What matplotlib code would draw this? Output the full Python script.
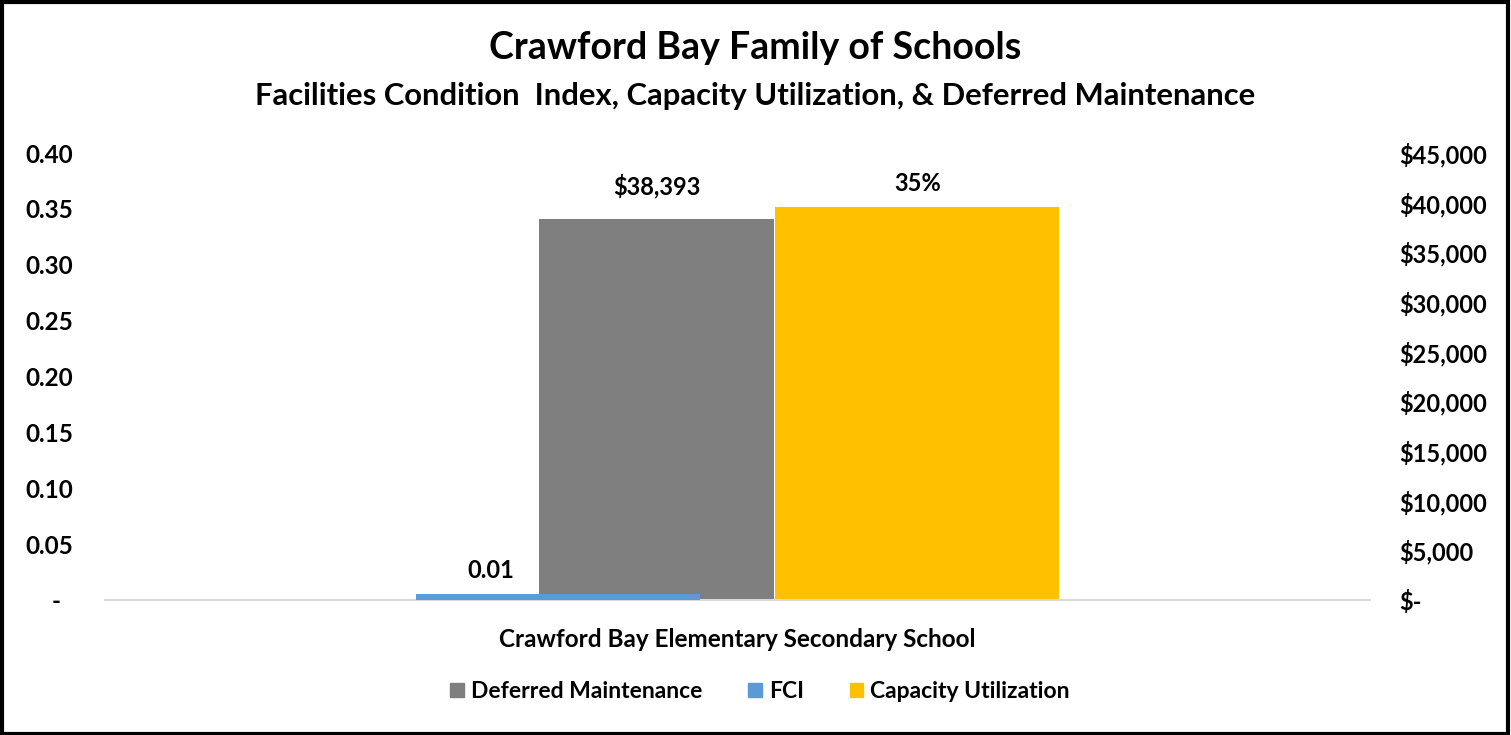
import matplotlib.pyplot as plt
from matplotlib.patches import Rectangle
from matplotlib.ticker import FuncFormatter

plt.rcParams['font.family'] = ['Lato', 'DejaVu Sans']
plt.rcParams['font.weight'] = 'bold'

school = "Crawford Bay Elementary Secondary School"
fci = 0.005
capacity = 0.352
deferred = 38393

left_ticks = [0, 0.05, 0.10, 0.15, 0.20, 0.25, 0.30, 0.35, 0.40]
right_ticks = [0, 5000, 10000, 15000, 20000, 25000, 30000, 35000, 40000, 45000]

c_gray = '#7f7f7f'
c_blue = '#5b9bd5'
c_gold = '#ffc000'

fig = plt.figure(figsize=(15.11, 7.35), dpi=100)
ax = fig.add_axes([0.0695, 0.1837, 0.8372, 0.6081])
ax2 = ax.twinx()

# primary axis: FCI and capacity, clustered
ax.bar(-0.142, fci, width=0.225, color=c_blue, zorder=3)
ax.bar(0.142, capacity, width=0.225, color=c_gold, zorder=2)
# secondary axis: deferred maintenance
ax2.bar(-0.064, deferred, width=0.186, color=c_gray, zorder=1)

ax.set_zorder(ax2.get_zorder() + 1)
ax.patch.set_visible(False)

ax.set_xlim(-0.5, 0.5)
ax.set_ylim(0, 0.40)
ax2.set_ylim(0, 45000)

ax.set_yticks(left_ticks)
ax.yaxis.set_major_formatter(FuncFormatter(lambda v, p: '-  ' if v == 0 else f'{v:.2f}'))
ax2.set_yticks(right_ticks)
ax2.yaxis.set_major_formatter(FuncFormatter(lambda v, p: '$-' if v == 0 else f'${v:,.0f}'))

ax.set_xticks([0])
ax.set_xticklabels([school])
ax.tick_params(axis='x', length=0, pad=20, labelsize=17.5)
ax.tick_params(axis='y', length=0, pad=23, labelsize=17.5)
ax2.tick_params(axis='y', length=0, pad=21, labelsize=17)

for a in (ax, ax2):
    for s in a.spines.values():
        s.set_visible(False)
ax.spines['bottom'].set_visible(True)
ax.spines['bottom'].set_color('#d9d9d9')
ax.spines['bottom'].set_linewidth(1.5)

# data labels
ax.annotate('0.01', (-0.142, fci), xytext=(-67, 12), textcoords='offset pixels',
            ha='center', va='bottom', fontsize=17, fontweight='bold')
ax.annotate('35%', (0.142, capacity), xytext=(0, 12), textcoords='offset pixels',
            ha='center', va='bottom', fontsize=17, fontweight='bold')
ax2.annotate(f'${deferred:,}', (-0.064, deferred), xytext=(0, 20), textcoords='offset pixels',
             ha='center', va='bottom', fontsize=17, fontweight='bold')

fig.text(0.5, 0.935, 'Crawford Bay Family of Schools', ha='center', va='center',
         fontsize=27, fontweight='bold')
fig.text(0.5, 0.87, 'Facilities Condition  Index, Capacity Utilization, & Deferred Maintenance',
         ha='center', va='center', fontsize=22.3, fontweight='bold')

handles = [Rectangle((0, 0), 1, 1, color=c) for c in (c_gray, c_blue, c_gold)]
fig.legend(handles, ['Deferred Maintenance', 'FCI', 'Capacity Utilization'],
           loc='center', bbox_to_anchor=(0.503, 0.059), ncol=3, frameon=False,
           fontsize=16.5, handlelength=0.6, handleheight=0.6, handletextpad=0.3,
           columnspacing=2.0)

fig.patches.append(Rectangle((0.001, 0.002), 0.997, 0.995, transform=fig.transFigure,
                             fill=False, edgecolor='black', linewidth=3))

fig.savefig('out.png', dpi=100)
